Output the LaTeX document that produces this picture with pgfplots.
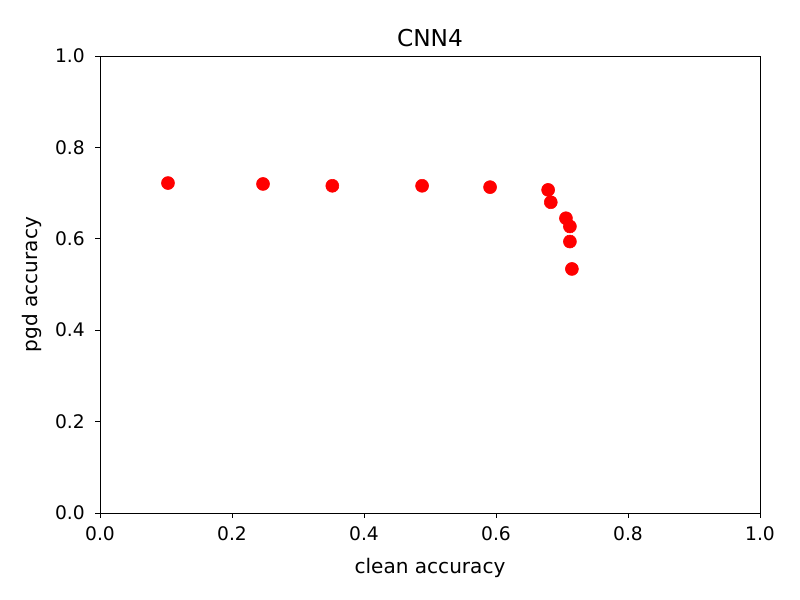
\documentclass[border=0pt]{standalone}
\usepackage{pgfplots}
\pgfplotsset{compat=1.18}
\usepackage{fontspec}
\setmainfont{DejaVu Sans}
\begin{document}
\begin{tikzpicture}
\begin{axis}[
  scale only axis,
  width=475.2bp, height=329.04bp,
  xmin=0, xmax=1, ymin=0, ymax=1,
  xtick={0,0.2,...,1.0}, ytick={0,0.2,...,1.0},
  /pgf/number format/assume math mode=true,
  xticklabel style={/pgf/number format/.cd,fixed,fixed zerofill,precision=1,/tikz/.cd,yshift=-2.5pt},
  yticklabel style={/pgf/number format/.cd,fixed,fixed zerofill,precision=1,/tikz/.cd,xshift=-4pt},
  ticklabel style={font=\fontsize{13.5}{16}\selectfont},
  tick align=outside, xtick pos=left, ytick pos=left,
  major tick length=3.5pt,
  tick style={black, line width=0.6pt},
  axis line style={line width=0.6pt},
  xlabel={clean accuracy}, ylabel={pgd accuracy},
  label style={font=\fontsize{14.5}{17}\selectfont},
  xlabel style={yshift=-6pt},
  ylabel style={yshift=3pt},
  title={CNN4},
  title style={font=\fontsize{16.8}{19}\selectfont, yshift=-3pt},
  clip=false,
]
\addplot[only marks, mark=*, mark size=4.7pt, color=red, mark options={fill=red, draw=red}] coordinates {
(0.103,0.722)
(0.247,0.720)
(0.352,0.716)
(0.488,0.716)
(0.591,0.713)
(0.679,0.707)
(0.683,0.680)
(0.706,0.645)
(0.712,0.627)
(0.712,0.594)
(0.715,0.534)
};
\coordinate (bl) at (rel axis cs:0,0);
\coordinate (tr) at (rel axis cs:1,1);
\end{axis}
\pgfresetboundingbox
\path ([shift={(-72bp,-62.64bp)}]bl) rectangle ([shift={(28.8bp,40.32bp)}]tr);
\end{tikzpicture}
\end{document}
